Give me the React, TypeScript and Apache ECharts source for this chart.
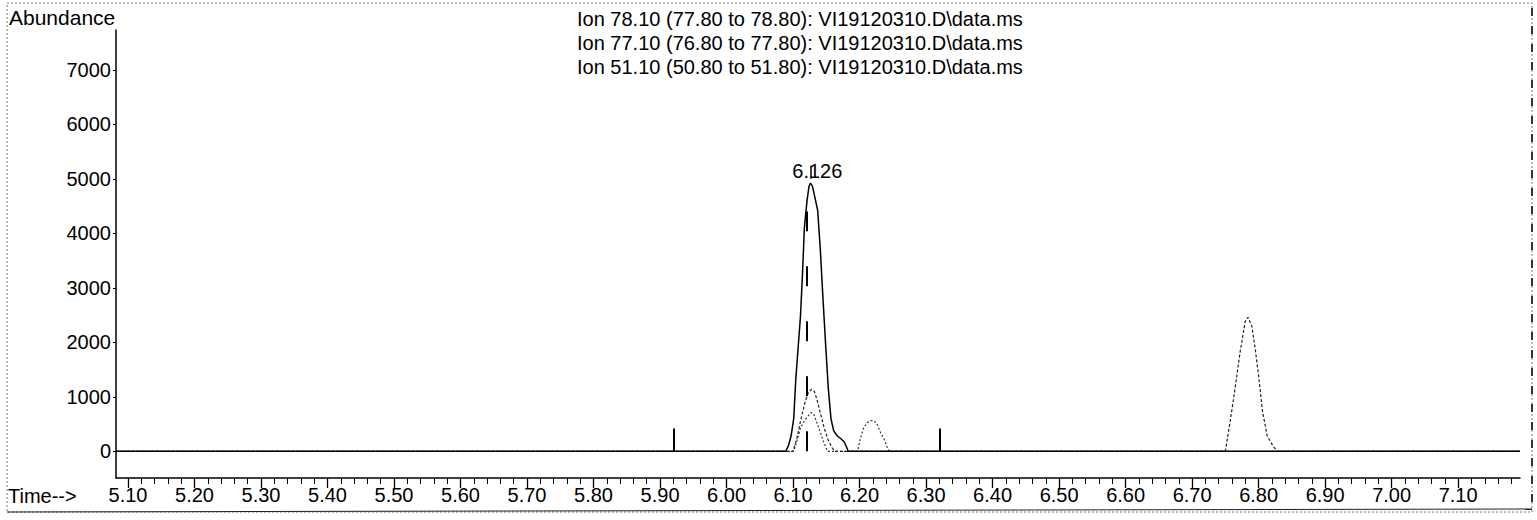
import React, { useEffect, useRef } from "react";
import * as echarts from "echarts";

// Axis ranges (data units)
const X_MIN = 5.082;
const X_MAX = 7.193;
const Y_MIN = -490;
const Y_MAX = 7730;

// Tick labels
const xTickLabels = [
  "5.10", "5.20", "5.30", "5.40", "5.50", "5.60", "5.70", "5.80", "5.90", "6.00", "6.10",
  "6.20", "6.30", "6.40", "6.50", "6.60", "6.70", "6.80", "6.90", "7.00", "7.10",
];
const yTickLabels = ["0", "1000", "2000", "3000", "4000", "5000", "6000", "7000"];

const legendLines = [
  "Ion 78.10 (77.80 to 78.80): VI19120310.D\\data.ms",
  "Ion 77.10 (76.80 to 77.80): VI19120310.D\\data.ms",
  "Ion 51.10 (50.80 to 51.80): VI19120310.D\\data.ms",
];

// Ion 78.10 (solid trace)
const ion78Time = [
  5.082, 6.089, 6.093, 6.097, 6.101, 6.104, 6.107, 6.111, 6.114, 6.117, 6.121, 6.124, 6.126,
  6.129, 6.133, 6.137, 6.141, 6.145, 6.149, 6.153, 6.157, 6.161, 6.166, 6.172, 6.177, 6.181,
  6.183, 7.193,
];
const ion78Abund = [
  0, 0, 100, 280, 600, 1300, 1800, 2450, 3200, 4100, 4600, 4860, 4920,
  4870, 4650, 4420, 3700, 2800, 1950, 1150, 600, 380, 290, 230, 170, 60,
  0, 0,
];

// Ion 77.10 (dotted trace)
const ion77Time = [
  5.082, 6.1, 6.106, 6.112, 6.118, 6.123, 6.128, 6.132, 6.136, 6.141, 6.147, 6.153, 6.159, 6.163,
  6.75, 6.757, 6.765, 6.772, 6.78, 6.784, 6.79, 6.795, 6.8, 6.806, 6.813, 6.822, 6.828, 7.193,
];
const ion77Abund = [
  0, 0, 250, 600, 900, 1080, 1140, 1100, 950, 700, 420, 200, 60, 0,
  0, 530, 1190, 1810, 2390, 2460, 2290, 1870, 1380, 720, 280, 90, 0, 0,
];

// Ion 51.10 (dotted trace)
const ion51Time = [
  5.082, 6.101, 6.106, 6.111, 6.117, 6.122, 6.127, 6.131, 6.136, 6.141, 6.146, 6.152,
  6.197, 6.201, 6.206, 6.212, 6.218, 6.222, 6.227, 6.232, 6.237, 6.242, 6.245, 7.193,
];
const ion51Abund = [
  0, 0, 200, 420, 560, 640, 710, 690, 520, 350, 170, 0,
  0, 220, 430, 530, 565, 560, 480, 330, 220, 60, 0, 0,
];

// Integration markers and expected retention time
const markerTimes = [5.92, 6.32];
const markerHeight = 420;
const expectedRT = 6.12;
const expectedTop = 4400;
const peakRT = 6.126;
const peakApex = 4920;
const peakTickTop = 5240;
const peakLabel = "6.126";

const FONT = "Liberation Sans";

export default function App() {
  const ref = useRef<HTMLDivElement>(null);

  useEffect(() => {
    const chart = echarts.init(ref.current!, null, { renderer: "svg" });
    const zip = (t: number[], a: number[]) => t.map((v, i) => [v, a[i]]);
    const xMajor = xTickLabels.map(Number);
    const yMajor = yTickLabels.map(Number);
    const xMinor: number[] = [];
    for (let i = 0; i <= 104; i++) xMinor.push(Math.round((5.1 + i * 0.02) * 100) / 100);

    chart.setOption({
      animation: false,
      backgroundColor: "#ffffff",
      grid: { left: 116, right: 17, top: 30, bottom: 42, containLabel: false, outerBoundsMode: "none" },
      xAxis: [
        {
          type: "value",
          min: X_MIN,
          max: X_MAX,
          position: "bottom",
          axisLine: { show: true, onZero: false, lineStyle: { color: "#000", width: 1.5 } },
          axisTick: { show: true, customValues: xMajor, length: 10, lineStyle: { color: "#000", width: 1.3 } },
          axisLabel: {
            show: true,
            customValues: xMajor,
            formatter: (v: number) => v.toFixed(2),
            fontFamily: FONT,
            fontSize: 20,
            color: "#000",
            margin: 7,
          },
          splitLine: { show: false },
        },
        {
          type: "value",
          min: X_MIN,
          max: X_MAX,
          position: "bottom",
          axisLine: { show: false, onZero: false },
          axisTick: { show: true, customValues: xMinor, length: 6, lineStyle: { color: "#000", width: 1 } },
          axisLabel: { show: false },
          splitLine: { show: false },
        },
      ],
      yAxis: {
        type: "value",
        min: Y_MIN,
        max: Y_MAX,
        axisLine: { show: true, onZero: false, lineStyle: { color: "#000", width: 1.5 } },
        axisTick: { show: true, customValues: yMajor, length: 3, lineStyle: { color: "#000" } },
        axisLabel: {
          show: true,
          customValues: yMajor,
          formatter: (v: number) => String(Math.round(v)),
          fontFamily: FONT,
          fontSize: 20,
          color: "#000",
          margin: 5,
        },
        splitLine: { show: false },
      },
      series: [
        {
          name: "Ion 51.10",
          type: "line",
          data: zip(ion51Time, ion51Abund),
          showSymbol: false,
          lineStyle: { color: "#333", width: 1.2, type: [2, 2] },
          z: 2,
        },
        {
          name: "Ion 77.10",
          type: "line",
          data: zip(ion77Time, ion77Abund),
          showSymbol: false,
          lineStyle: { color: "#222", width: 1.2, type: [3, 2] },
          z: 2,
        },
        {
          name: "Ion 78.10",
          type: "line",
          data: zip(ion78Time, ion78Abund),
          showSymbol: false,
          lineStyle: { color: "#000", width: 1.5 },
          z: 3,
          markLine: {
            silent: true,
            symbol: ["none", "none"],
            label: { show: false },
            lineStyle: { color: "#000", width: 2, type: "solid" },
            data: markerTimes.map((t) => [{ coord: [t, 0] }, { coord: [t, markerHeight] }]),
          },
        },
        {
          name: "peak",
          type: "scatter",
          data: [[peakRT, peakApex]],
          symbolSize: 0,
          itemStyle: { opacity: 1, color: "#000" },
          label: {
            show: true,
            position: "top",
            distance: 2,
            offset: [7, 0],
            formatter: peakLabel,
            fontFamily: FONT,
            fontSize: 20,
            color: "#000",
            opacity: 1,
          },
          z: 4,
          markLine: {
            silent: true,
            symbol: ["none", "none"],
            label: { show: false },
            data: [
              [
                { coord: [expectedRT, 0], lineStyle: { color: "#000", width: 2, type: [20, 35] } },
                { coord: [expectedRT, expectedTop] },
              ],
              [
                { coord: [peakRT, peakApex + 80], lineStyle: { color: "#000", width: 1.5, type: "solid" } },
                { coord: [peakRT, peakTickTop] },
              ],
            ],
          },
        },
      ],
      graphic: [
        {
          type: "rect",
          silent: true,
          shape: { x: 7, y: 3, width: 1525, height: 509 },
          style: { fill: "none", stroke: "#777", lineWidth: 1, lineDash: [2, 2] },
        },
        {
          type: "line",
          silent: true,
          shape: { x1: 7, y1: 512, x2: 1532, y2: 509 },
          style: { stroke: "#222", lineWidth: 1.2 },
        },
        {
          type: "line",
          silent: true,
          shape: { x1: 1532, y1: 8, x2: 1532, y2: 509 },
          style: { stroke: "#333", lineWidth: 2, lineDash: [8, 10] },
        },
        {
          type: "text",
          x: 9,
          y: 17,
          silent: true,
          style: {
            text: "Abundance",
            fontFamily: FONT,
            fontSize: 21,
            fill: "#000",
            verticalAlign: "middle",
            align: "left",
          },
        },
        {
          type: "text",
          x: 8,
          y: 496,
          silent: true,
          style: {
            text: "Time-->",
            fontFamily: FONT,
            fontSize: 20,
            fill: "#000",
            verticalAlign: "middle",
            align: "left",
          },
        },
        ...legendLines.map((t, i) => ({
          type: "text",
          x: 577,
          y: 19 + i * 24,
          silent: true,
          style: {
            text: t,
            fontFamily: FONT,
            fontSize: 20,
            fill: "#000",
            verticalAlign: "middle",
            align: "left",
          },
        })),
      ],
    });

    return () => chart.dispose();
  }, []);

  return (
    <div
      ref={ref}
      style={{ position: "absolute", left: 0, top: 0, width: 1537, height: 520 }}
    />
  );
}
